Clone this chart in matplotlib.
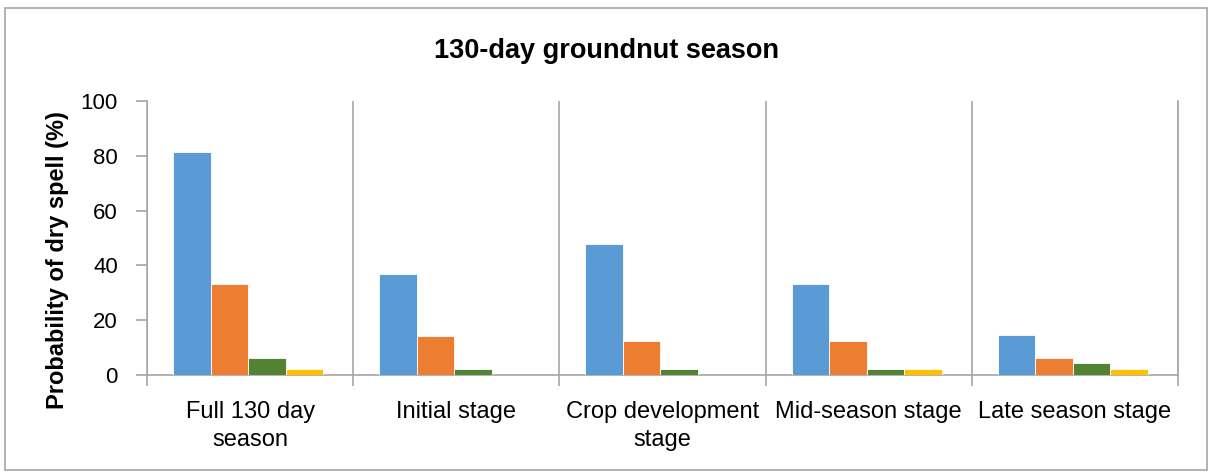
import numpy as np
import matplotlib.pyplot as plt
from matplotlib.patches import Rectangle

plt.rcParams['font.family'] = ['Liberation Sans', 'DejaVu Sans']

stages = ['Full 130 day\nseason', 'Initial stage', 'Crop development\nstage',
          'Mid-season stage', 'Late season stage']
series_a = [81.3, 36.7, 47.9, 33.3, 14.6]
series_b = [33.3, 14.4, 12.5, 12.5, 6.3]
series_c = [6.3, 2.1, 2.1, 2.1, 4.2]
series_d = [2.1, 0, 0, 2.1, 2.1]
colors = ['#5B9BD5', '#ED7D31', '#548235', '#FFC000']

fig = plt.figure(figsize=(12.12, 4.74), dpi=100)
ax = fig.add_axes([0.1213, 0.2089, 0.8507, 0.578])

x = np.arange(len(stages))
w = 0.182
start = 0.126
for k, vals in enumerate([series_a, series_b, series_c, series_d]):
    ax.bar(x + start + k * w, vals, width=w, align='edge', color=colors[k],
           edgecolor='white', linewidth=0.6, zorder=3)

ax.set_xlim(0, len(stages))
ax.set_ylim(0, 100)
ax.set_yticks(range(0, 101, 20))
ax.set_xticks(x + 0.5)
ax.set_xticklabels(stages, fontsize=17, linespacing=1.35)
ax.set_xticks(np.arange(len(stages) + 1), minor=True)
ax.tick_params(axis='x', which='major', length=0, pad=19)
ax.tick_params(axis='x', which='minor', length=8, color='#a6a6a6', width=1.2)
ax.tick_params(axis='y', length=8, color='#a6a6a6', width=1.2, labelsize=16, pad=13)
ax.grid(axis='x', which='minor', color='#a6a6a6', linewidth=1.2, zorder=0)

ax.spines['top'].set_visible(False)
for side in ['left', 'bottom', 'right']:
    ax.spines[side].set_color('#a6a6a6')
    ax.spines[side].set_linewidth(1.2)

ax.set_ylabel('Probability of dry spell (%)', fontsize=17, fontweight='bold')
ax.yaxis.set_label_coords(-0.076, 0.42)
fig.text(0.5, 0.893, '130-day groundnut season', ha='center', va='center',
         fontsize=19.5, fontweight='bold')

fig.patches.append(Rectangle((0.004, 0.008), 0.992, 0.975, transform=fig.transFigure,
                             fill=False, edgecolor='#a6a6a6', linewidth=1.2))

fig.savefig('out.png', dpi=100)
